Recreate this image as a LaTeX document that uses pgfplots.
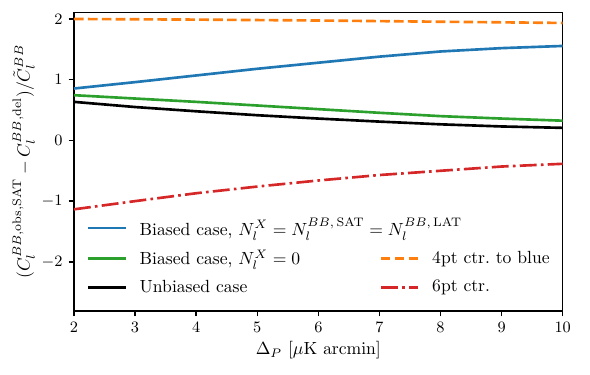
\documentclass[border=0pt]{standalone}
\usepackage{pgfplots}
\pgfplotsset{compat=1.18}

\definecolor{tabblue}{HTML}{1F77B4}
\definecolor{taborange}{HTML}{FF7F0E}
\definecolor{tabgreen}{HTML}{2CA02C}
\definecolor{tabred}{HTML}{D62728}

\begin{document}
\begin{tikzpicture}
\begin{axis}[
    scale only axis,
    width=277.5pt, height=169.6pt,
    xmin=2, xmax=10, ymin=-2.81, ymax=2.11,
    xtick={2,3,...,10}, ytick={-2,-1,0,1,2},
    tick align=outside, xtick pos=left, ytick pos=left,
    major tick length=3pt,
    axis line style={line width=0.8pt},
    every tick/.style={black, line width=0.8pt},
    tick label style={font=\small},
    xlabel={$\Delta_P\ [\mu\mathrm{K}\ \mathrm{arcmin}]$},
    xlabel shift=-2pt,
    ylabel={$(C_l^{BB,\mathrm{obs},\mathrm{SAT}}-C_l^{BB,\mathrm{del}})/\tilde{C}_l^{BB}$},
    ylabel shift=-3pt,
    legend columns=2,
    legend cell align=left,
    legend style={draw=none, fill=none, at={(0.015,0.03)}, anchor=south west,
        font=\normalsize, row sep=3pt,
        /tikz/column 2/.style={column sep=43pt}},
    legend image code/.code={\draw[#1, line width=1.5pt] (0cm,0cm) -- (0.75cm,0cm); \path (0.93cm,0cm);},
]
\addplot[tabblue, line width=1.5pt] coordinates {
(2,0.855) (3,0.96) (4,1.07) (5,1.18) (6,1.28) (7,1.38) (8,1.465) (9,1.52) (10,1.556)};
\addlegendentry{\rlap{Biased case, $N_l^X=N_l^{BB,\,\mathrm{SAT}}=N_l^{BB,\,\mathrm{LAT}}$}}
\addlegendimage{empty legend}
\addlegendentry{}
\addplot[tabgreen, line width=1.5pt] coordinates {
(2,0.745) (3,0.69) (4,0.635) (5,0.575) (6,0.515) (7,0.455) (8,0.40) (9,0.36) (10,0.325)};
\addlegendentry{Biased case, $N_l^X=0$}
\addplot[taborange, line width=1.5pt, dash pattern=on 5.5pt off 2.4pt] coordinates {
(2,2.0) (4,1.99) (6,1.975) (8,1.955) (10,1.935)};
\addlegendentry{4pt ctr.\ to blue}
\addplot[black, line width=1.5pt] coordinates {
(2,0.635) (3,0.55) (4,0.48) (5,0.415) (6,0.36) (7,0.31) (8,0.265) (9,0.23) (10,0.207)};
\addlegendentry{Unbiased case}
\addplot[tabred, line width=1.5pt, dash pattern=on 9.6pt off 2.4pt on 1.5pt off 2.4pt] coordinates {
(2,-1.135) (3,-1.0) (4,-0.87) (5,-0.76) (6,-0.66) (7,-0.57) (8,-0.50) (9,-0.43) (10,-0.385)};
\addlegendentry{6pt ctr.}
\end{axis}
\path (current axis.south west) ++(-42pt,-35.8pt);
\path (current axis.north east) ++(15.5pt,7pt);
\end{tikzpicture}
\end{document}
